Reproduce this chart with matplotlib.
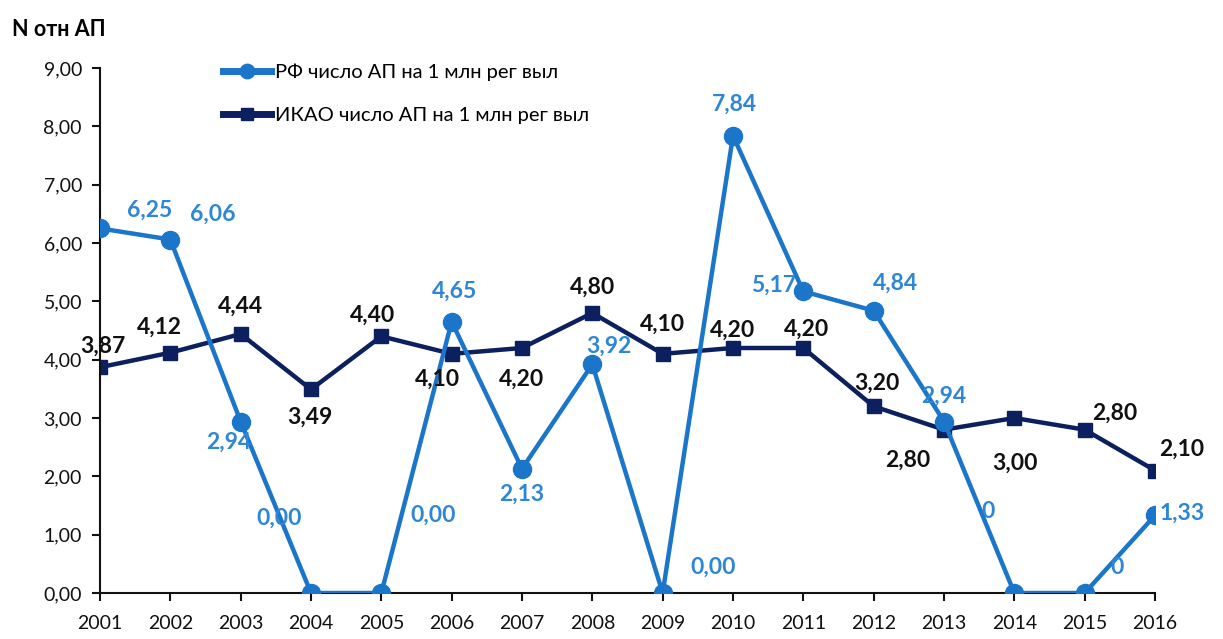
import matplotlib
matplotlib.use("Agg")
import matplotlib.pyplot as plt

years = [2001, 2002, 2003, 2004, 2005, 2006, 2007, 2008, 2009, 2010, 2011, 2012, 2013, 2014, 2015, 2016]
rf = [6.25, 6.06, 2.94, 0.00, 0.00, 4.65, 2.13, 3.92, 0.00, 7.84, 5.17, 4.84, 2.94, 0.0, 0.0, 1.33]
rf_labels = ["6,25", "6,06", "2,94", "0,00", "0,00", "4,65", "2,13", "3,92", "0,00", "7,84", "5,17", "4,84", "2,94", "0", "0", "1,33"]
icao = [3.87, 4.12, 4.44, 3.49, 4.40, 4.10, 4.20, 4.80, 4.10, 4.20, 4.20, 3.20, 2.80, 3.00, 2.80, 2.10]
icao_labels = ["3,87", "4,12", "4,44", "3,49", "4,40", "4,10", "4,20", "4,80", "4,10", "4,20", "4,20", "3,20", "2,80", "3,00", "2,80", "2,10"]
yticks = [0, 1, 2, 3, 4, 5, 6, 7, 8, 9]
ytick_labels = ["0,00", "1,00", "2,00", "3,00", "4,00", "5,00", "6,00", "7,00", "8,00", "9,00"]
rf_name = "РФ число АП на 1 млн рег выл"
icao_name = "ИКАО число АП на 1 млн рег выл"
ylabel = "N отн АП"

# label offsets in pixels (dx, dy) relative to point, y up
rf_off = [(50, 18), (42, 25), (-12, -21), (-32, 75), (52, 78), (3, 31), (0, -25), (17, 18), (50, 26), (1, 31), (-30, 6), (22, 27), (0, 25), (-26, 81), (32, 25), (27, 2)]
icao_off = [(3, 21), (-11, 25), (0, 28), (-1, -28), (-9, 21), (-14, -25), (0, -31), (0, 26), (0, 30), (0, 18), (3, 19), (3, 23), (-36, -31), (1, -45), (30, 16), (27, 21)]

RF_COL = "#1B75C9"
RF_TXT = "#2F86D6"
ICAO_COL = "#0C1F5E"

fig = plt.figure(figsize=(12.23, 6.39), dpi=100)
ax = fig.add_axes([100/1223, 1-593/639, (1155-100)/1223, (593-68)/639])

ax.plot(years, rf, color=RF_COL, lw=3.2, marker="o", ms=13, label=rf_name, zorder=3)
ax.plot(years, icao, color=ICAO_COL, lw=3.2, marker="s", ms=10.5, label=icao_name, zorder=2)

for x, y, t, (dx, dy) in zip(years, rf, rf_labels, rf_off):
    ax.annotate(t, (x, y), xytext=(dx*0.72, dy*0.72), textcoords="offset points",
                ha="center", va="center", fontsize=16.5, fontweight="bold", color=RF_TXT,
                family="Lato", zorder=5, annotation_clip=False)
for x, y, t, (dx, dy) in zip(years, icao, icao_labels, icao_off):
    ax.annotate(t, (x, y), xytext=(dx*0.72, dy*0.72), textcoords="offset points",
                ha="center", va="center", fontsize=16.5, fontweight="bold", color="#111111",
                family="Lato", zorder=5, annotation_clip=False)

ax.set_xlim(2001, 2016)
ax.set_ylim(0, 9)
ax.set_xticks(years)
ax.set_xticklabels([str(y) for y in years], family="Lato", fontsize=14)
ax.set_yticks(yticks)
ax.set_yticklabels(ytick_labels, family="Lato", fontsize=14)
ax.tick_params(axis="both", direction="out", length=6, width=1.5, colors="#111111")
ax.tick_params(axis="x", pad=10)
ax.tick_params(axis="y", pad=7)
for s in ["top", "right"]:
    ax.spines[s].set_visible(False)
for s in ["left", "bottom"]:
    ax.spines[s].set_linewidth(1.5)
    ax.spines[s].set_color("#111111")

fig.text(12/1223, 1-30/639, ylabel, family="Lato", fontweight="bold", fontsize=15.5, va="center", ha="left")

leg = ax.legend(loc="upper left", bbox_to_anchor=(205/1223, 1-45/639), bbox_transform=fig.transFigure,
                frameon=False, prop={"family": "Lato", "size": 14.5}, handlelength=2.4, handletextpad=0.2,
                labelspacing=1.3, markerscale=0.8)
for h in leg.legend_handles:
    h.set_linewidth(5)

fig.savefig("out.png", dpi=100)
